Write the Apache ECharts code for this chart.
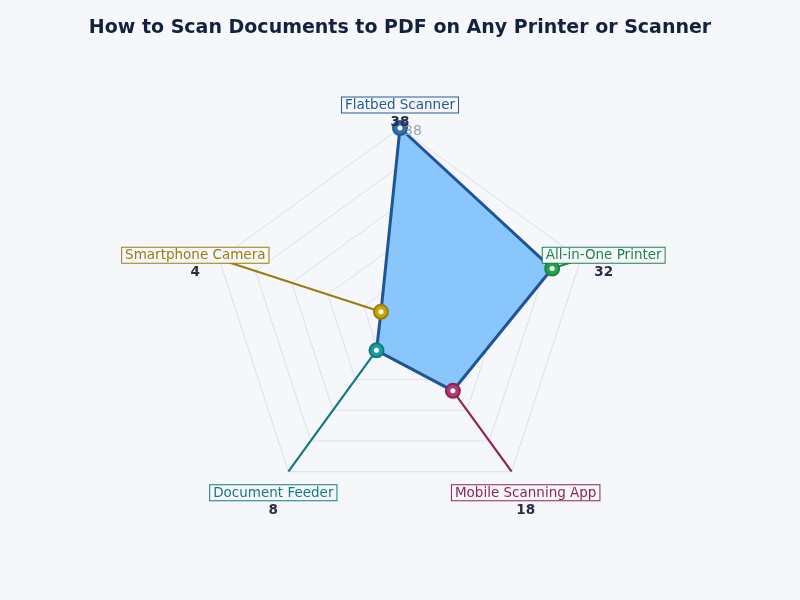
<!DOCTYPE html>
<html>
<head>
<meta charset="utf-8">
<title>Scan Documents to PDF</title>
<script src="https://cdn.jsdelivr.net/npm/echarts@6/dist/echarts.min.js"></script>
<style>
  html, body { margin: 0; padding: 0; background: #f5f7fa; }
  #main { width: 800px; height: 600px; }
</style>
</head>
<body>
<div id="main"></div>
<script>
// data, clockwise from the top
var categories = ['Flatbed Scanner', 'All-in-One Printer', 'Mobile Scanning App', 'Document Feeder', 'Smartphone Camera'];
var counts = [38, 32, 18, 8, 4];
var axisMax = 38;

// styles
var lineColors = ['#245a9a', '#1e8449', '#8e2457', '#137a80', '#9a7d0a'];
var dotColors = ['#2f6fb6', '#27a14c', '#b23b77', '#1c9ca2', '#c9a40f'];
var labelOffsets = [[0, -13], [23, 6], [14, 31], [-15, 31], [-24, 6]];

var myChart = echarts.init(document.getElementById('main'));

// radar lays indicators out counter-clockwise, so flip everything after the first
var order = [0];
for (var i = categories.length - 1; i > 0; i--) order.push(i);

var indicator = order.map(function (k) { return { name: categories[k], max: axisMax }; });
var radarValues = order.map(function (k) { return counts[k]; });

var series = [];
// filled area
series.push({
    type: 'radar',
    radarIndex: 0,
    symbol: 'none',
    z: 2,
    lineStyle: { width: 0 },
    areaStyle: { color: '#89c6fc', opacity: 1 },
    data: [{ value: radarValues }]
});
// outline on top of the fill
series.push({
    type: 'radar',
    radarIndex: 0,
    symbol: 'none',
    z: 3,
    lineStyle: { color: '#1f5597', width: 3 },
    data: [{ value: radarValues }]
});

// leader lines from each point out to its axis end
categories.forEach(function (name, i) {
    series.push({
        type: 'line',
        coordinateSystem: 'polar',
        clip: false,
        symbol: 'none',
        z: 3,
        itemStyle: { color: lineColors[i] },
        lineStyle: { color: lineColors[i], width: 2.2, opacity: 1 },
        data: [[counts[i], i], [axisMax, i]]
    });
});

// points
series.push({
    type: 'scatter',
    coordinateSystem: 'polar',
    clip: false,
    symbolSize: 14,
    z: 4,
    itemStyle: { opacity: 1 },
    data: counts.map(function (v, i) {
        return {
            value: [v, i],
            itemStyle: { color: dotColors[i], borderColor: lineColors[i], borderWidth: 2, opacity: 1 },
            label: i === 0 ? {
                show: true, position: 'right', distance: 0, offset: [-4, 3],
                formatter: String(v), color: '#9aa1ad', fontSize: 14,
                fontFamily: 'DejaVu Sans'
            } : { show: false }
        };
    })
});
series.push({
    type: 'scatter',
    coordinateSystem: 'polar',
    clip: false,
    symbolSize: 5,
    z: 5,
    itemStyle: { color: '#ffffff', opacity: 1 },
    data: counts.map(function (v, i) { return [v, i]; })
});

// boxed category names with the value underneath
series.push({
    type: 'scatter',
    coordinateSystem: 'polar',
    clip: false,
    symbolSize: 0,
    z: 6,
    itemStyle: { opacity: 1 },
    data: categories.map(function (name, i) {
        var rich = {
            v: { fontFamily: 'DejaVu Sans', fontSize: 13.5, fontWeight: 'bold', color: '#2a2d44', lineHeight: 20, align: 'center' }
        };
        rich['n' + i] = {
            fontFamily: 'DejaVu Sans', fontSize: 13.5, color: lineColors[i],
            borderColor: lineColors[i], borderWidth: 1, padding: [1, 3, 0, 3],
            backgroundColor: '#f5f7fa', align: 'center'
        };
        return {
            value: [axisMax, i],
            label: {
                show: true,
                position: 'inside',
                offset: labelOffsets[i],
                formatter: '{n' + i + '|' + name + '}\n{v|' + counts[i] + '}',
                rich: rich
            }
        };
    })
});

var option = {
    backgroundColor: '#f5f7fa',
    animation: false,
    title: {
        text: 'How to Scan Documents to PDF on Any Printer or Scanner',
        left: 'center',
        top: 14,
        textStyle: { fontFamily: 'DejaVu Sans', fontSize: 19, fontWeight: 'bold', color: '#14213d' }
    },
    radar: {
        center: ['50%', '53%'],
        radius: 190,
        startAngle: 90,
        splitNumber: 5,
        shape: 'polygon',
        z: 1,
        indicator: indicator,
        axisName: { show: false },
        // spokes are hidden under the fill and the leader lines anyway
        axisLine: { show: false },
        splitLine: { lineStyle: { color: '#dde1e7', width: 1 } },
        splitArea: { show: false }
    },
    polar: {
        center: ['50%', '53%'],
        radius: 190
    },
    radiusAxis: {
        min: 0,
        max: axisMax,
        axisLine: { show: false },
        axisTick: { show: false },
        axisLabel: { show: false },
        splitLine: { show: false }
    },
    // value angle axis over the category indices, full circle so nothing sits on the clip edge
    angleAxis: {
        type: 'value',
        min: 0,
        max: categories.length,
        interval: 1,
        startAngle: 90,
        clockwise: true,
        axisLine: { show: false },
        axisTick: { show: false },
        axisLabel: { show: false },
        splitLine: { show: false }
    },
    series: series
};

myChart.setOption(option);
</script>
</body>
</html>
